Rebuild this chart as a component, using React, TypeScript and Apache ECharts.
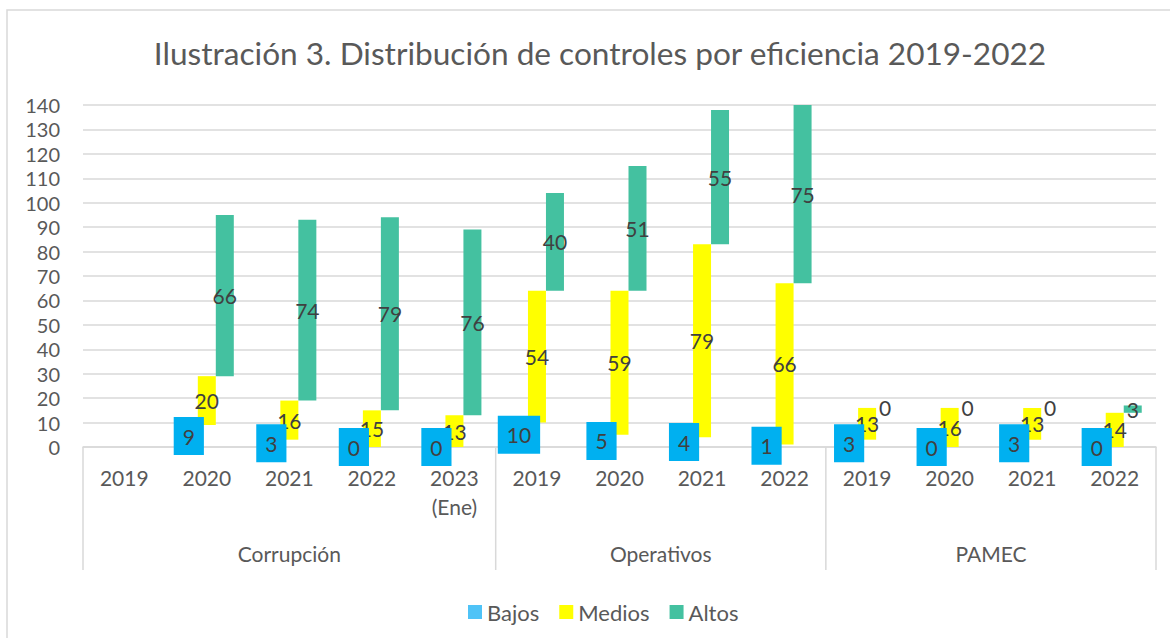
import React, { useEffect, useRef } from "react";
import * as echarts from "echarts";

const categories = ["2019", "2020", "2021", "2022", "2023\n(Ene)", "2019", "2020", "2021", "2022", "2019", "2020", "2021", "2022"];
const groups = ["Corrupción", "Operativos", "PAMEC"];
const groupSizes = [5, 4, 4];
const bajos: (number | null)[] = [null, 9, 3, 0, 0, 10, 5, 4, 1, 3, 0, 3, 0];
const medios: (number | null)[] = [null, 20, 16, 15, 13, 54, 59, 79, 66, 13, 16, 13, 14];
const altos: (number | null)[] = [null, 66, 74, 79, 76, 40, 51, 55, 75, 0, 0, 0, 3];
const yTicks = { min: 0, max: 140, interval: 10 };

const FONT = "Lato";
const TXT = "#595959";
const LBL = "#404040";

export default function App() {
  const ref = useRef<HTMLDivElement>(null);
  useEffect(() => {
    if (!ref.current) return;
    const chart = echarts.init(ref.current, null, { renderer: "svg" });
    const baseM = bajos.map((b) => (b == null ? null : b));
    const baseA = bajos.map((b, i) => (b == null || medios[i] == null ? null : b + (medios[i] as number)));
    const common = { type: "bar", barWidth: 18, barGap: "0%" };
    const lbl = { show: true, position: "inside", fontSize: 21, lineHeight: 20, color: LBL, fontFamily: FONT };
    chart.setOption({
      animation: false,
      title: {
        text: "Ilustración 3. Distribución de controles por eficiencia 2019-2022",
        left: 595,
        top: 32,
        textAlign: "center",
        textStyle: { fontSize: 31.6, fontWeight: "normal", color: TXT, fontFamily: FONT },
      },
      legend: {
        data: ["Bajos", "Medios", "Altos"],
        left: 463,
        top: 596,
        icon: "rect",
        itemWidth: 14,
        itemHeight: 14,
        itemGap: 20,
        textStyle: { fontSize: 22, color: TXT, fontFamily: FONT },
      },
      grid: { left: 83, right: 14, top: 105, bottom: 191 },
      xAxis: {
        type: "category",
        data: categories,
        axisTick: { show: false },
        axisLine: { lineStyle: { color: "#d9d9d9", width: 1.5 } },
        axisLabel: { color: TXT, fontSize: 21, lineHeight: 29, margin: 16, fontFamily: FONT, interval: 0 },
      },
      yAxis: {
        type: "value",
        min: yTicks.min,
        max: yTicks.max,
        interval: yTicks.interval,
        axisLine: { show: false },
        axisTick: { show: false },
        splitLine: { lineStyle: { color: "#d9d9d9", width: 1.5 } },
        axisLabel: { color: TXT, fontSize: 20, margin: 23, fontFamily: FONT },
      },
      series: [
        {
          ...common,
          name: "Bajos",
          stack: "b",
          data: bajos,
          itemStyle: { color: "#4FC3F7" },
          label: { ...lbl, backgroundColor: "#00B0F0", padding: [9, 9] },
          z: 3,
        },
        { ...common, name: "_mb", stack: "m", data: baseM, itemStyle: { color: "transparent" }, silent: true, label: { show: false } },
        { ...common, name: "Medios", stack: "m", data: medios, itemStyle: { color: "#FFFF00" }, label: lbl },
        { ...common, name: "_ab", stack: "a", data: baseA, itemStyle: { color: "transparent" }, silent: true, label: { show: false } },
        { ...common, name: "Altos", stack: "a", data: altos, itemStyle: { color: "#44C1A0" }, label: lbl },
      ],
    });

    // group labels and separators under the category axis
    const px = (i: number) => chart.convertToPixel({ xAxisIndex: 0 }, i) as number;
    const bw = px(1) - px(0);
    const y0 = chart.convertToPixel({ yAxisIndex: 0 }, 0) as number;
    const g: any[] = [
      { type: "rect", shape: { x: 7, y: 10, width: 1300, height: 800 }, style: { fill: "none", stroke: "#d9d9d9", lineWidth: 1.5 }, silent: true },
    ];
    let start = 0;
    const edges: number[] = [px(0) - bw / 2];
    groups.forEach((name, gi) => {
      const end = start + groupSizes[gi];
      const xl = px(start) - bw / 2;
      const xr = px(end - 1) + bw / 2;
      edges.push(xr);
      g.push({
        type: "text",
        x: (xl + xr) / 2,
        y: y0 + 106,
        style: { text: name, fontSize: 21, fill: TXT, fontFamily: FONT, textAlign: "center", textVerticalAlign: "middle" },
      });
      start = end;
    });
    edges.forEach((x) => {
      g.push({ type: "line", shape: { x1: x, y1: y0, x2: x, y2: y0 + 123 }, style: { stroke: "#d9d9d9", lineWidth: 1.5 }, silent: true });
    });
    chart.setOption({ graphic: g });

    return () => chart.dispose();
  }, []);
  return <div ref={ref} style={{ position: "absolute", left: 0, top: 0, width: 1170, height: 638, background: "#fff" }} />;
}
